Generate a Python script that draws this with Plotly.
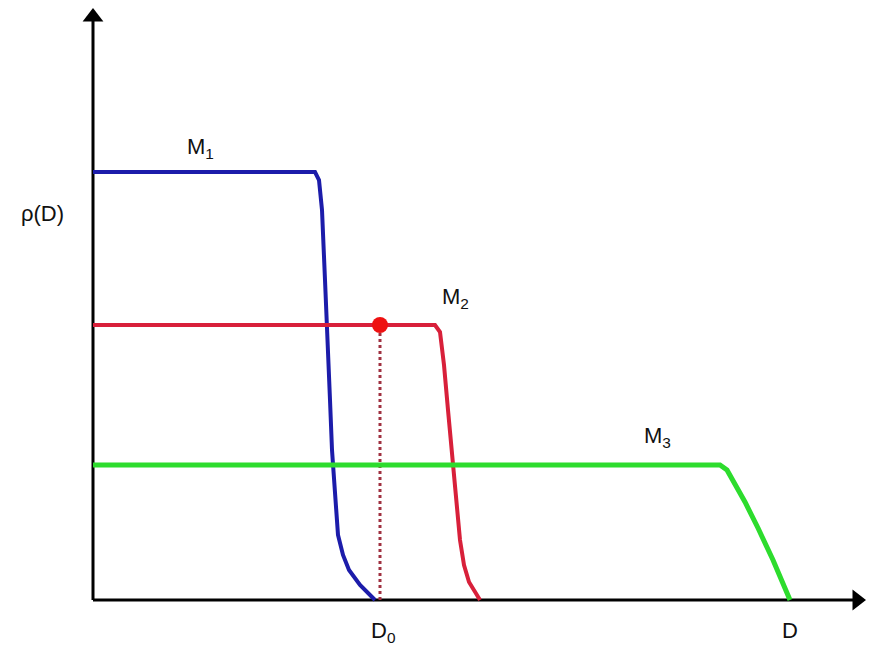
import plotly.graph_objects as go

# Curves (x: diameter units, y: rho units); origin at axis crossing
m1_x = [0, 222, 226, 229, 232, 234, 237, 239, 242, 245, 250, 256, 267, 282]
m1_y = [428, 428, 420, 390, 320, 260, 200, 150, 100, 65, 45, 30, 15, 0]
m2_x = [0, 342, 347, 351, 355, 359, 363, 367, 371, 376, 387]
m2_y = [275, 275, 268, 235, 190, 145, 100, 60, 35, 18, 0]
m3_x = [0, 627, 634, 641, 652, 665, 680, 697]
m3_y = [135, 135, 130, 118, 98, 72, 40, 0]
d0_x = 287
d0_y = 275

labels = ["M<sub>1</sub>", "M<sub>2</sub>", "M<sub>3</sub>"]
label_x = [107, 362, 564]
label_y = [452, 302, 163]

FONT = "Liberation Sans"

fig = go.Figure()

# axes
fig.add_trace(go.Scatter(x=[0, 762], y=[0, 0], mode="lines",
                         line=dict(color="black", width=3), hoverinfo="skip"))
fig.add_trace(go.Scatter(x=[0, 0], y=[0, 582], mode="lines",
                         line=dict(color="black", width=3), hoverinfo="skip"))
fig.add_trace(go.Scatter(x=[764], y=[0], mode="markers",
                         marker=dict(symbol="triangle-right", size=18, color="black"), hoverinfo="skip"))
fig.add_trace(go.Scatter(x=[0], y=[583], mode="markers",
                         marker=dict(symbol="triangle-up", size=18, color="black"), hoverinfo="skip"))

# dotted drop line
fig.add_trace(go.Scatter(x=[d0_x, d0_x], y=[0, d0_y], mode="lines",
                         line=dict(color="#a03040", width=3, dash="dot"), hoverinfo="skip"))

fig.add_trace(go.Scatter(x=m1_x, y=m1_y, mode="lines",
                         line=dict(color="#1c1caa", width=4), name="M1"))
fig.add_trace(go.Scatter(x=m2_x, y=m2_y, mode="lines",
                         line=dict(color="#d8203a", width=4), name="M2"))
fig.add_trace(go.Scatter(x=m3_x, y=m3_y, mode="lines",
                         line=dict(color="#2ddc2d", width=5), name="M3"))

fig.add_trace(go.Scatter(x=[d0_x], y=[d0_y], mode="markers",
                         marker=dict(color="#ee1111", size=16), hoverinfo="skip"))

for t, x, y in zip(labels, label_x, label_y):
    fig.add_annotation(x=x, y=y, text=t, showarrow=False,
                       font=dict(family=FONT, size=22, color="#111111"))

fig.add_annotation(x=-51, y=387, text="ρ(D)", showarrow=False,
                   font=dict(family=FONT, size=22, color="#111111"))
fig.add_annotation(x=d0_x + 3, y=-32, text="D<sub>0</sub>", showarrow=False,
                   font=dict(family=FONT, size=22, color="#111111"))
fig.add_annotation(x=697, y=-30, text="D", showarrow=False,
                   font=dict(family=FONT, size=22, color="#111111"))

fig.update_layout(
    width=871, height=647,
    margin=dict(l=0, r=0, t=0, b=0),
    paper_bgcolor="white", plot_bgcolor="white",
    showlegend=False,
    xaxis=dict(range=[-93, 778], visible=False, fixedrange=True),
    yaxis=dict(range=[-47, 600], visible=False, fixedrange=True),
)

fig.write_html("out.html", config={"displayModeBar": False},
               post_script="document.body.style.margin='0';document.body.style.overflow='hidden';")
